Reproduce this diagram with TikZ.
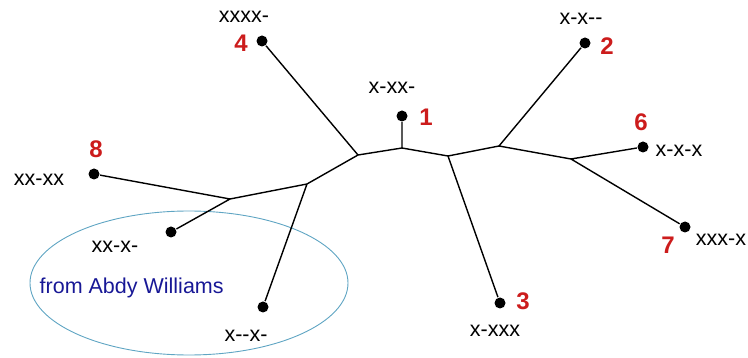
\documentclass[tikz,border=0pt]{standalone}
\usepackage{fontspec}
\setmainfont{Liberation Sans}
\definecolor{numred}{RGB}{204,28,28}
\definecolor{ringblue}{RGB}{95,165,195}
\definecolor{notenavy}{RGB}{24,24,150}
\begin{document}
\begin{tikzpicture}[x=1pt,y=-1pt,line width=1.4pt,
  leaf/.style={circle,fill,inner sep=0pt,minimum size=11pt},
  seq/.style={font=\fontsize{21.5}{25}\selectfont,inner sep=0pt},
  num/.style={font=\fontsize{24}{28}\selectfont\bfseries,text=numred,inner sep=0pt}]
\useasboundingbox (0,0) rectangle (748,358);
\draw[ringblue,line width=0.9pt] (189,283) ellipse [x radius=159pt,y radius=72pt];
\coordinate (a) at (358,155); \coordinate (b) at (402,148); \coordinate (c) at (448,156);
\coordinate (d) at (499,146); \coordinate (e) at (571,159); \coordinate (f) at (307,184);
\coordinate (g) at (230,199);
\node[leaf] (l1) at (402,116) {}; \node[leaf] (l2) at (585,43) {}; \node[leaf] (l3) at (500,303) {};
\node[leaf] (l4) at (262,41) {}; \node[leaf] (l6) at (643,147) {}; \node[leaf] (l7) at (685,227) {};
\node[leaf] (l8) at (94,174) {}; \node[leaf] (l9) at (171,232) {}; \node[leaf] (l10) at (263,307) {};
\draw (l4)--(a)--(b)--(c)--(d)--(e)--(l6) (e)--(l7) (b)--(l1) (c)--(l3) (d)--(l2);
\draw (a)--(f)--(g)--(l8) (g)--(l9) (f)--(l10);
\node[seq] (s4) at (244,17) {xxxx-}; \node[num] (n4) at (241,43) {4};
\node[seq] (s2) at (581,19) {x-x-{}-}; \node[num] (n2) at (607,46) {2};
\node[seq] (s1) at (392,88) {x-xx-}; \node[num] (n1) at (426,117) {1};
\node[seq] (s6) at (679,151) {x-x-x}; \node[num] (n6) at (641,122) {6};
\node[seq] (s8) at (39,180) {xx-xx}; \node[num] (n8) at (96,149) {8};
\node[seq] (s9) at (115,247) {xx-x-};
\node[seq] (s10) at (246,336) {x-{}-x-};
\node[seq] (s3) at (495,331) {x-xxx}; \node[num] (n3) at (523,301) {3};
\node[seq] (s7) at (721,240) {xxx-x}; \node[num] (n7) at (668,245) {7};
\node[seq,text=notenavy,anchor=base west] (note) at (39,294) {from Abdy Williams};
\end{tikzpicture}
\end{document}
